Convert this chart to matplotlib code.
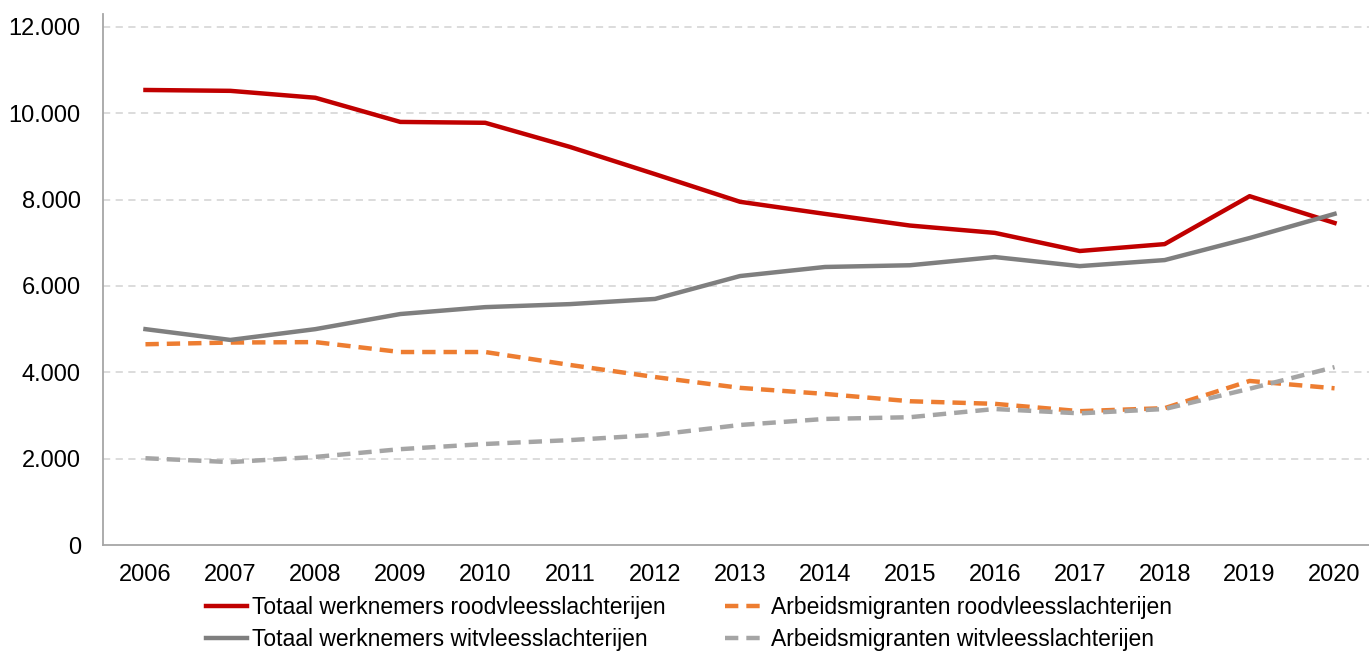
import numpy as np
import matplotlib.pyplot as plt
from matplotlib.ticker import FuncFormatter

plt.rcParams['font.family'] = ['Liberation Sans', 'DejaVu Sans']

# Data
years = [2006, 2007, 2008, 2009, 2010, 2011, 2012, 2013, 2014, 2015, 2016, 2017, 2018, 2019, 2020]
totaal_rood = [10540, 10520, 10360, 9800, 9780, 9220, 8590, 7950, 7670, 7400, 7230, 6810, 6970, 8080, 7460]
migranten_rood = [4650, 4690, 4700, 4470, 4470, 4170, 3890, 3640, 3500, 3330, 3270, 3100, 3170, 3800, 3630]
totaal_wit = [5000, 4750, 5000, 5350, 5510, 5580, 5700, 6230, 6440, 6480, 6670, 6460, 6600, 7110, 7670]
migranten_wit = [2010, 1920, 2040, 2220, 2340, 2430, 2550, 2780, 2920, 2960, 3150, 3050, 3150, 3620, 4120]

fig = plt.figure(figsize=(13.69, 6.54), dpi=100)
ax = fig.add_axes([103 / 1369, 1 - 545 / 654, (1377 - 103) / 1369, (545 - 14) / 654])

l1, = ax.plot(years, totaal_rood, color='#C00000', lw=3.2, label='Totaal werknemers roodvleesslachterijen')
l2, = ax.plot(years, migranten_rood, color='#ED7D31', lw=3.2, dashes=(3, 1.8),
              label='Arbeidsmigranten roodvleesslachterijen')
l3, = ax.plot(years, totaal_wit, color='#7F7F7F', lw=3.2, label='Totaal werknemers witvleesslachterijen')
l4, = ax.plot(years, migranten_wit, color='#A5A5A5', lw=3.2, dashes=(3, 1.8),
              label='Arbeidsmigranten witvleesslachterijen')

ax.set_xlim(2005.5, 2020.5)
ax.set_ylim(0, 12300)
ax.set_xticks(years)
ax.set_yticks(range(0, 12001, 2000))
ax.yaxis.set_major_formatter(FuncFormatter(lambda v, p: f"{int(v):,}".replace(',', '.')))
ax.tick_params(axis='both', length=0, labelsize=17, colors='#000000')
ax.tick_params(axis='x', pad=14)
ax.tick_params(axis='y', pad=16)

for y in range(2000, 12001, 2000):
    ax.axhline(y, color='#D9D9D9', lw=1.3, dashes=(4, 3), zorder=0)

for s in ['top', 'right']:
    ax.spines[s].set_visible(False)
ax.spines['left'].set_color('#A6A6A6')
ax.spines['bottom'].set_color('#A6A6A6')
ax.spines['left'].set_linewidth(1.3)
ax.spines['bottom'].set_linewidth(1.3)

# legend: row 1 = rood, row 2 = wit
fig.legend([l1, l3, l2, l4], [l1.get_label(), l3.get_label(), l2.get_label(), l4.get_label()],
           loc='center', bbox_to_anchor=(0.503, 0.047), ncol=2, frameon=False,
           fontsize=16.5, handlelength=1.8, handletextpad=0.2, columnspacing=2.6,
           labelspacing=0.4)

fig.savefig('out.png', dpi=100)
